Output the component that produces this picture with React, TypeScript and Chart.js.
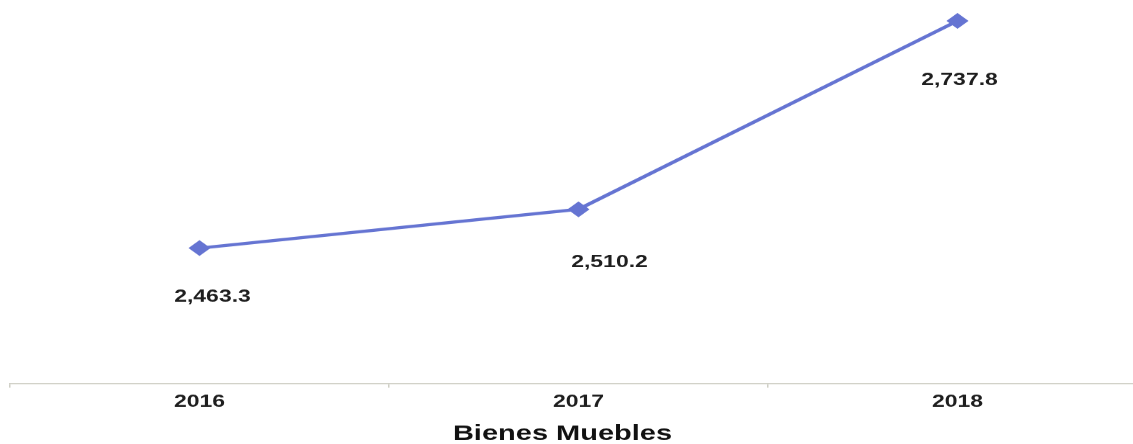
import React, { useEffect, useRef } from "react";
import { Chart, registerables } from "chart.js";

Chart.register(...registerables);

const categories = ["2016", "2017", "2018"];
const values = [2463.3, 2510.2, 2737.8];
const axisTitle = "Bienes Muebles";
// label placement relative to each point (unscaled canvas px)
const labelDx = [13, 31, 2];
const labelDy = [68, 74, 83];
const titleDx = -16;

const SCALE_Y = 0.72;
const CANVAS_W = 1147;
const CANVAS_H = Math.round(444 / SCALE_Y);
const FONT = "'Liberation Sans', Arial, sans-serif";
const TITLE_SIZE = 29;

const fmt = (v: number) =>
  v.toLocaleString("en-US", { minimumFractionDigits: 1, maximumFractionDigits: 1 });

const labelPlugin = {
  id: "pointLabels",
  afterDatasetsDraw(chart: any) {
    const ctx = chart.ctx;
    const meta = chart.getDatasetMeta(0);
    ctx.save();
    ctx.font = `bold 23px ${FONT}`;
    ctx.fillStyle = "#1e1e1e";
    ctx.textAlign = "center";
    ctx.textBaseline = "middle";
    meta.data.forEach((pt: any, i: number) => {
      ctx.fillText(fmt(values[i]), pt.x + labelDx[i], pt.y + labelDy[i]);
    });
    // axis title, drawn slightly left of the axis centre as in the source
    const xs = chart.scales.x;
    ctx.font = `bold ${TITLE_SIZE}px ${FONT}`;
    ctx.fillStyle = "#111111";
    ctx.textBaseline = "middle";
    ctx.fillText(axisTitle, (xs.left + xs.right) / 2 + titleDx, xs.bottom - TITLE_SIZE / 2);
    ctx.restore();
  },
};

export default function App() {
  const ref = useRef<HTMLCanvasElement>(null);
  useEffect(() => {
    if (!ref.current) return;
    const chart = new Chart(ref.current, {
      type: "line",
      data: {
        labels: categories,
        datasets: [
          {
            data: values,
            borderColor: "#6574d2",
            backgroundColor: "#6574d2",
            borderWidth: 4.5,
            pointStyle: "rectRot",
            pointRadius: 11,
            pointBorderWidth: 0,
            tension: 0,
            clip: false,
          },
        ],
      },
      options: {
        responsive: false,
        animation: false,
        events: [],
        layout: { autoPadding: false, padding: { left: 10, right: 0, top: 0, bottom: 0 } },
        plugins: { legend: { display: false }, tooltip: { enabled: false } },
        scales: {
          x: {
            offset: true,
            border: { display: true, color: "#cfcfc6", width: 1.5 },
            grid: {
              display: true,
              offset: true,
              drawOnChartArea: false,
              drawTicks: true,
              tickLength: 6,
              color: "#cfcfc6",
              lineWidth: 1.5,
            },
            ticks: {
              padding: 6,
              color: "#1e1e1e",
              font: { family: FONT, size: 23, weight: "bold", lineHeight: 1.2 },
            },
            title: {
              display: true,
              text: axisTitle,
              color: "rgba(0,0,0,0)",
              padding: { top: 10, bottom: 0 },
              font: { family: FONT, size: TITLE_SIZE, weight: "bold", lineHeight: 1 },
            },
          },
          y: {
            display: false,
            min: 2300,
            max: 2763,
          },
        },
      },
      plugins: [labelPlugin],
    });
    return () => chart.destroy();
  }, []);
  return (
    <div
      style={{
        position: "absolute",
        left: 0,
        top: 0,
        width: 1133,
        height: 444,
        overflow: "hidden",
        background: "#ffffff",
      }}
    >
      <canvas
        ref={ref}
        width={CANVAS_W}
        height={CANVAS_H}
        style={{
          display: "block",
          width: CANVAS_W,
          height: CANVAS_H,
          transform: `scaleY(${SCALE_Y})`,
          transformOrigin: "0 0",
        }}
      />
    </div>
  );
}
